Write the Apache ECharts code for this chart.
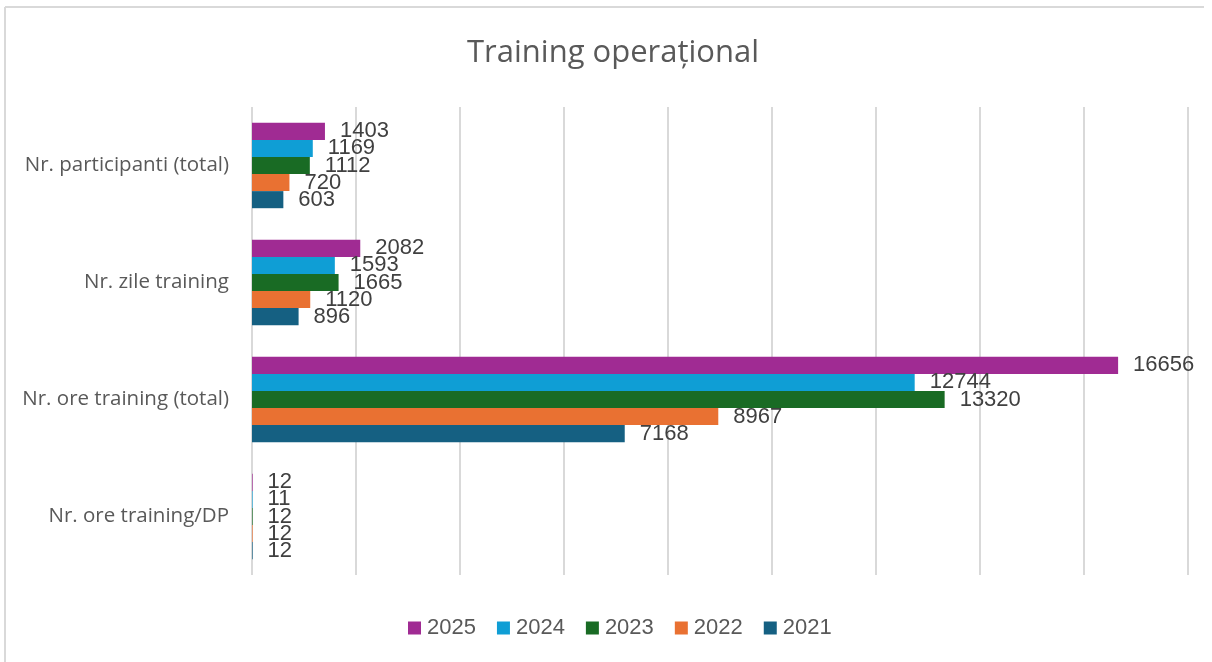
<!DOCTYPE html>
<html>
<head>
<meta charset="utf-8">
<script src="https://cdn.jsdelivr.net/npm/echarts@6/dist/echarts.min.js"></script>
<style>
html,body{margin:0;padding:0;background:#fff;}
#chart{width:1212px;height:662px;}
</style>
</head>
<body>
<div id="chart"></div>
<script>
const categories = ['Nr. participanti (total)', 'Nr. zile training', 'Nr. ore training (total)', 'Nr. ore training/DP'];
const years = ['2025', '2024', '2023', '2022', '2021'];
const values2025 = [1403, 2082, 16656, 12];
const values2024 = [1169, 1593, 12744, 11];
const values2023 = [1112, 1665, 13320, 12];
const values2022 = [720, 1120, 8967, 12];
const values2021 = [603, 896, 7168, 12];
const colors = ['#A02B93', '#0F9ED5', '#196B24', '#E97132', '#156082'];

const seriesValues = [values2025, values2024, values2023, values2022, values2021];

const chart = echarts.init(document.getElementById('chart'), null, {renderer: 'canvas'});
chart.setOption({
  animation: false,
  backgroundColor: '#fff',
  color: colors,
  title: {
    text: 'Training operațional',
    left: 462,
    top: 33,
    textStyle: {fontFamily: 'Open Sans', fontSize: 31, fontWeight: 'normal', color: '#595959'}
  },
  graphic: [
    {type: 'line', shape: {x1: 5, y1: 7, x2: 1204, y2: 7}, style: {stroke: '#d9d9d9', lineWidth: 2}},
    {type: 'line', shape: {x1: 5, y1: 7, x2: 5, y2: 662}, style: {stroke: '#d9d9d9', lineWidth: 2}}
  ],
  legend: {
    data: years,
    bottom: 18,
    left: 403,
    icon: 'rect',
    itemWidth: 13,
    itemHeight: 13,
    itemGap: 21,
    textStyle: {fontFamily: 'Liberation Sans', fontSize: 22, color: '#595959', padding: [0, 0, 0, 1]}
  },
  grid: {left: 252, right: 24, top: 107, bottom: 87, containLabel: false},
  xAxis: {
    type: 'value',
    min: 0, max: 18000, interval: 2000,
    axisLabel: {show: false},
    axisLine: {show: false},
    axisTick: {show: false},
    splitLine: {show: true, lineStyle: {color: '#d9d9d9', width: 2}}
  },
  yAxis: {
    type: 'category',
    data: categories,
    inverse: true,
    axisLine: {show: false},
    axisTick: {show: false},
    axisLabel: {fontFamily: 'Open Sans', fontSize: 20.5, color: '#595959', margin: 23}
  },
  series: years.map((y, i) => ({
    name: y,
    type: 'bar',
    data: seriesValues[i],
    barGap: '0%',
    barCategoryGap: '27%',
    itemStyle: {color: colors[i]},
    label: {
      show: true,
      position: 'right',
      distance: 15,
      fontFamily: 'Liberation Sans',
      fontSize: 22,
      color: '#404040'
    }
  }))
});
</script>
</body>
</html>
